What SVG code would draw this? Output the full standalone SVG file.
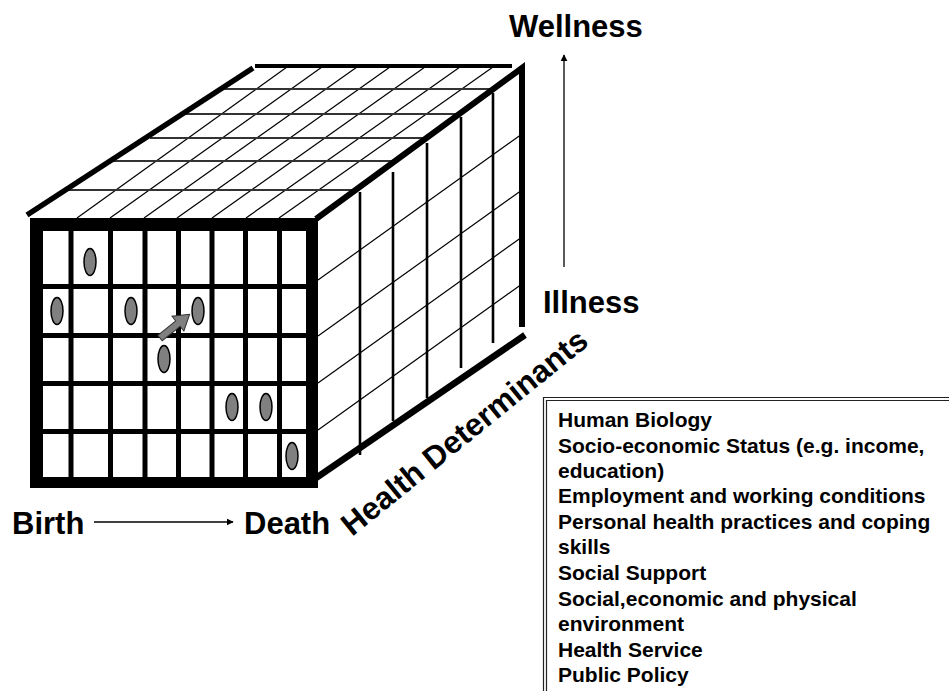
<svg xmlns="http://www.w3.org/2000/svg" width="949" height="691" viewBox="0 0 949 691">
  <defs>
    <style>
      .lbl { font-family: "Liberation Sans", Arial, Helvetica, sans-serif; font-weight: bold; fill: #000; }
      .big { font-size: 31px; }
      .list { font-size: 21px; }
      .edge { stroke: #000; fill: none; stroke-linecap: butt; }
      .thin { stroke: #000; stroke-width: 1.2; fill: none; }
      .hz { stroke: #333; stroke-width: 2; fill: none; }
      .bar { fill: #000; }
      .vert { stroke: #000; stroke-width: 2.6; fill: none; }
      .dot { fill: #808080; stroke: #000; stroke-width: 1.5; }
      .frame { stroke: #222; stroke-width: 1.2; fill: none; }
    </style>
    <marker id="head" viewBox="0 0 10 10" refX="9" refY="5" markerWidth="7" markerHeight="7" markerUnits="userSpaceOnUse" orient="auto">
      <path d="M0,0 L10,5 L0,10 z" fill="#000"/>
    </marker>
  </defs>

  <rect width="949" height="691" fill="#fff"/>

  <!-- top face of the cube -->
  <g id="top-face">
    <!-- receding diagonals -->
    <g class="thin">
      <line x1="77" y1="218" x2="287" y2="67"/>
      <line x1="110" y1="218" x2="322" y2="67"/>
      <line x1="144" y1="218" x2="357" y2="67"/>
      <line x1="177" y1="218" x2="390" y2="67"/>
      <line x1="212" y1="218" x2="425" y2="67"/>
      <line x1="246" y1="218" x2="460" y2="67"/>
      <line x1="279" y1="218" x2="493" y2="67"/>
    </g>
    <!-- depth rows -->
    <g class="hz">
      <line x1="221" y1="89" x2="493" y2="89"/>
      <line x1="186" y1="114" x2="459" y2="114"/>
      <line x1="150" y1="138" x2="427" y2="138"/>
      <line x1="113" y1="161" x2="395" y2="161"/>
      <line x1="68" y1="190" x2="356" y2="190"/>
    </g>
    <line class="edge" x1="27" y1="215" x2="253" y2="68" stroke-width="5.5"/>
    <line class="edge" x1="255" y1="66" x2="512" y2="66" stroke-width="4"/>
  </g>

  <!-- right side face of the cube -->
  <g id="side-face">
    <g class="thin">
      <line x1="318" y1="280" x2="522" y2="134"/>
      <line x1="318" y1="336" x2="522" y2="190"/>
      <line x1="318" y1="383" x2="522" y2="237"/>
      <line x1="318" y1="430" x2="522" y2="284"/>
    </g>
    <g class="vert">
      <line x1="360" y1="192" x2="360" y2="455"/>
      <line x1="393" y1="172" x2="393" y2="421"/>
      <line x1="427" y1="143" x2="427" y2="398"/>
      <line x1="461" y1="117" x2="461" y2="368"/>
      <line x1="493" y1="93" x2="493" y2="343"/>
    </g>
    <polyline class="edge" points="316,219 522,68 522,327" stroke-width="6" stroke-linejoin="miter"/>
    <line class="edge" x1="316" y1="478" x2="525" y2="335" stroke-width="6.5"/>
  </g>

  <!-- front face: life-course grid -->
  <g id="front-face">
    <rect x="30" y="218" width="288" height="270" fill="#000"/>
    <rect x="43" y="231" width="263" height="246" fill="#fff"/>
    <g class="bar">
      <rect x="68.5" y="231" width="5" height="246"/>
      <rect x="108" y="231" width="5" height="246"/>
      <rect x="142.5" y="231" width="5" height="246"/>
      <rect x="176" y="231" width="5" height="246"/>
      <rect x="209.5" y="231" width="5" height="246"/>
      <rect x="243" y="231" width="5" height="246"/>
      <rect x="277" y="231" width="5" height="246"/>
      <rect x="43" y="284" width="263" height="5"/>
      <rect x="43" y="333" width="263" height="5"/>
      <rect x="43" y="381" width="263" height="5"/>
      <rect x="43" y="429" width="263" height="5"/>
    </g>
    <g class="dot">
      <ellipse cx="90" cy="262" rx="6" ry="13.5"/>
      <ellipse cx="57" cy="311" rx="6" ry="13.5"/>
      <ellipse cx="131" cy="311" rx="6" ry="13.5"/>
      <ellipse cx="198" cy="311" rx="6" ry="13.5"/>
      <ellipse cx="164" cy="359" rx="6" ry="13.5"/>
      <ellipse cx="232" cy="407" rx="6" ry="13.5"/>
      <ellipse cx="266" cy="407" rx="6" ry="13.5"/>
      <ellipse cx="292" cy="456" rx="6" ry="13.5"/>
    </g>
  </g>

  <!-- axis labels -->
  <g id="label-wellness"><text class="lbl big" x="509" y="37">Wellness</text></g>
  <g id="label-illness"><text class="lbl big" x="543" y="313">Illness</text></g>
  <g id="label-birth"><text class="lbl big" x="12" y="534">Birth</text></g>
  <g id="label-death"><text class="lbl big" x="244" y="534">Death</text></g>
  <g id="label-determinants"><text class="lbl" font-size="31.5" transform="translate(352,537) rotate(-39)">Health Determinants</text></g>

  <!-- list of determinants -->
  <g id="determinants-box">
    <path class="frame" d="M543.5,691 V397.5 H949"/>
    <path class="frame" d="M546.5,691 V400.5 H949"/>
    <text class="lbl list" x="558">
      <tspan x="558" y="427">Human Biology</tspan>
      <tspan x="558" y="453">Socio-economic Status (e.g. income,</tspan>
      <tspan x="558" y="478">education)</tspan>
      <tspan x="558" y="503">Employment and working conditions</tspan>
      <tspan x="558" y="529">Personal health practices and coping</tspan>
      <tspan x="558" y="554">skills</tspan>
      <tspan x="558" y="580">Social Support</tspan>
      <tspan x="558" y="606">Social,economic and physical</tspan>
      <tspan x="558" y="631">environment</tspan>
      <tspan x="558" y="657">Health Service</tspan>
      <tspan x="558" y="682">Public Policy</tspan>
    </text>
  </g>

  <!-- connectors -->
  <g id="connectors">
    <line x1="564" y1="267" x2="564" y2="55" stroke="#000" stroke-width="1.3" marker-end="url(#head)"/>
    <line x1="94" y1="522" x2="233" y2="522" stroke="#000" stroke-width="1.3" marker-end="url(#head)"/>
    <polygon points="0,-3.5 23,-3.5 23,-9.5 38,0 23,9.5 23,3.5 0,3.5" transform="translate(160,338) rotate(-38.7)" fill="#808080" stroke="#333" stroke-width="1"/>
  </g>
</svg>
